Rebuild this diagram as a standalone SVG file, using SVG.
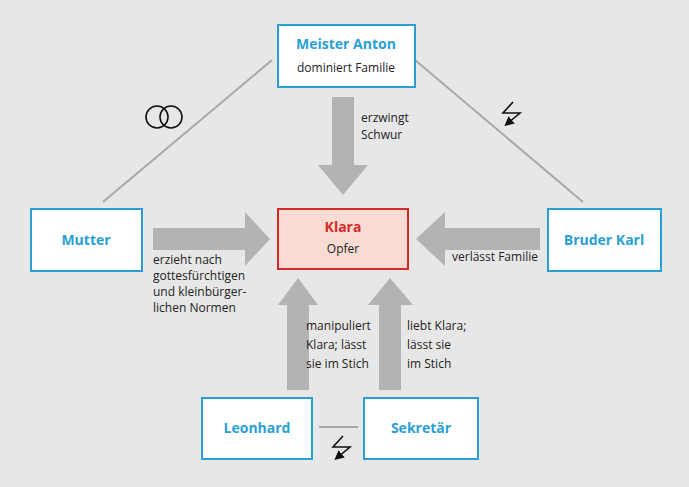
<svg xmlns="http://www.w3.org/2000/svg" width="689" height="487" viewBox="0 0 689 487">
<style>
.box{fill:#fff;stroke:#2a9fd6;stroke-width:2}
.t{font-family:"Open Sans","Liberation Sans",sans-serif;font-size:14px;font-weight:bold;fill:#2a9fd6;text-anchor:middle}
.s{font-family:"Open Sans","Liberation Sans",sans-serif;font-size:12px;fill:#222}
.ar{fill:#b3b3b3}
.ln{stroke:#a8a8a8;stroke-width:2;fill:none}
</style>
<defs><marker id="ah" markerWidth="6" markerHeight="6" refX="3" refY="3" orient="auto"><path d="M0,0L6,3L0,6z" fill="#111"/></marker></defs>
<rect width="689" height="487" fill="#e7e7e7"/>
<g id="connectors">
<line class="ln" x1="272" y1="60" x2="103" y2="202"/>
<line class="ln" x1="415" y1="60" x2="583" y2="202"/>
<line class="ln" x1="319" y1="427" x2="358" y2="427"/>
<path class="ar" d="M332,97H354V165H368L343,195L318,165H332Z"/>
<path class="ar" d="M153,228H245V212L270,239L245,266V250H153Z"/>
<path class="ar" d="M540,228H445V212L416,239L445,266V250H540Z"/>
<path class="ar" d="M287,390V305H278L298,278L318,305H309V390Z"/>
<path class="ar" d="M379,390V305H368L390,278L413,305H401V390Z"/>
<circle cx="157" cy="117" r="11" fill="none" stroke="#111" stroke-width="1.6"/>
<circle cx="171" cy="117" r="11" fill="none" stroke="#111" stroke-width="1.6"/>
<path d="M513,102L503,113H520L508,123" fill="none" stroke="#111" stroke-width="1.6" marker-end="url(#ah)"/>
<path d="M343,436L333,447H350L338,457" fill="none" stroke="#111" stroke-width="1.6" marker-end="url(#ah)"/>
<text class="s" x="361" y="122">erzwingt</text><text class="s" x="361" y="139">Schwur</text>
<text class="s" x="153" y="264">erzieht nach</text><text class="s" x="153" y="280">gottesfürchtigen</text><text class="s" x="153" y="296">und kleinbürger-</text><text class="s" x="153" y="312">lichen Normen</text>
<text class="s" x="452" y="261">verlässt Familie</text>
<text class="s" x="306" y="330">manipuliert</text><text class="s" x="306" y="349">Klara; lässt</text><text class="s" x="306" y="368">sie im Stich</text>
<text class="s" x="407" y="330">liebt Klara;</text><text class="s" x="407" y="349">lässt sie</text><text class="s" x="407" y="368">im Stich</text>
</g>
<g id="anton"><rect class="box" x="278" y="25" width="137" height="62"/><text class="t" x="346" y="49">Meister Anton</text><text class="s" x="346" y="72" text-anchor="middle">dominiert Familie</text></g>
<g id="mutter"><rect class="box" x="31" y="209" width="111" height="62"/><text class="t" x="86" y="245">Mutter</text></g>
<g id="klara"><rect x="278" y="209" width="130" height="60" fill="#f8dbd2" stroke="#d42a2a" stroke-width="2"/><text class="t" x="343" y="232" fill="#d42a2a" style="fill:#d42a2a">Klara</text><text class="s" x="343" y="253" text-anchor="middle">Opfer</text></g>
<g id="karl"><rect class="box" x="548" y="209" width="113" height="62"/><text class="t" x="604" y="245">Bruder Karl</text></g>
<g id="leonhard"><rect class="box" x="202" y="398" width="110" height="61"/><text class="t" x="257" y="433">Leonhard</text></g>
<g id="sekretaer"><rect class="box" x="364" y="398" width="114" height="61"/><text class="t" x="421" y="433">Sekretär</text></g>
</svg>
